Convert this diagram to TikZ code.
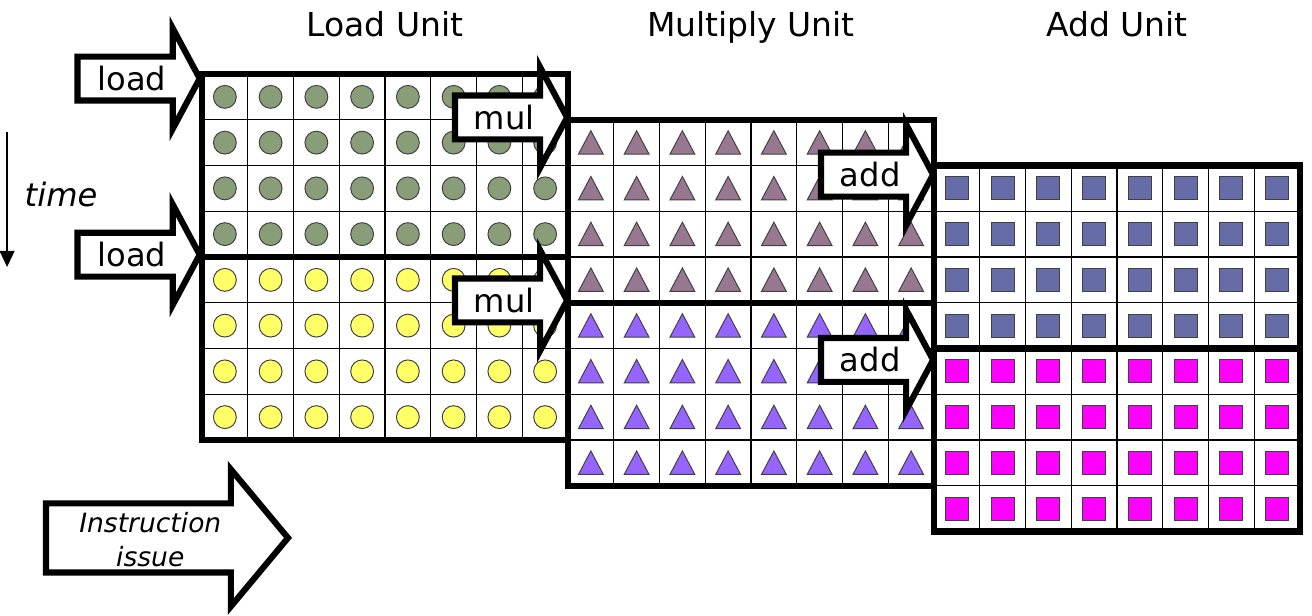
\documentclass[tikz,border=0pt]{standalone}
\usepackage{fontspec}
\setmainfont{DejaVu Sans}
\usetikzlibrary{calc,arrows.meta}
\definecolor{loadgreen}{RGB}{137,158,120}
\definecolor{loadyellow}{RGB}{255,255,102}
\definecolor{mulmauve}{RGB}{152,120,144}
\definecolor{mulpurple}{RGB}{150,100,255}
\definecolor{addslate}{RGB}{102,108,168}
\definecolor{addmagenta}{RGB}{255,0,255}
\tikzset{
	gridline/.style={line width=0.8pt},
	unitborder/.style={line width=3.8pt},
	blockarrow/.style={draw, fill=white, line width=3.8pt, line join=miter},
	shapeedge/.style={draw=black!75, line width=0.6pt},
	heading/.style={font=\fontsize{20.5}{24}\selectfont, anchor=base},
	arrowtext/.style={font=\fontsize{20}{24}\selectfont},
}
\def\instarrow[#1](#2)#3#4{
	\draw[blockarrow] (#2) -- ++(-0.59,1.1) -- ++(0,-0.62) -- ++({-(#1-0.59)},0) -- ++(0,-0.96) -- ++({#1-0.59},0) -- ++(0,-0.62) -- cycle;
	\node[arrowtext] (#3) at ($(#2)+({-(#1+0.3)/2},0)$) {#4};
}

\begin{document}
\begin{tikzpicture}
			%%%%% START %%%%%
			\useasboundingbox (-4.415,1.617) rectangle (24.262,-11.847);
			
			\node[heading] (loadunit) at (4,0.83) {Load Unit};
			\node[heading] (mulunit) at (12,0.83) {Multiply Unit};
			\node[heading] (addunit) at (20,0.83) {Add Unit};
			
			% load unit
			\foreach \rows/\col in {{0,1,2,3}/loadgreen,{4,5,6,7}/loadyellow}
				\foreach \j in \rows \foreach \i in {0,...,7}
					\draw[shapeedge, fill=\col] (\i+0.5,-\j-0.5) circle (0.25);
			\draw[gridline] (0,0) grid (8,-8);
			\draw[unitborder] (0,0) rectangle (8,-8);
			\draw[unitborder] (0,-4) -- (8,-4);
			
			% multiply unit
			\begin{scope}[shift={(8,-1)}]
			\foreach \rows/\col in {{0,1,2,3}/mulmauve,{4,5,6,7}/mulpurple}
				\foreach \j in \rows \foreach \i in {0,...,7}
					\draw[shapeedge, fill=\col] (\i+0.5,-\j-0.24) -- (\i+0.77,-\j-0.75) -- (\i+0.23,-\j-0.75) -- cycle;
			\draw[gridline] (0,0) grid (8,-8);
			\draw[unitborder] (0,0) rectangle (8,-8);
			\draw[unitborder] (0,-4) -- (8,-4);
			\end{scope}
			
			% add unit
			\begin{scope}[shift={(16,-2)}]
			\foreach \rows/\col in {{0,1,2,3}/addslate,{4,5,6,7}/addmagenta}
				\foreach \j in \rows \foreach \i in {0,...,7}
					\draw[shapeedge, fill=\col] (\i+0.25,-\j-0.25) rectangle (\i+0.75,-\j-0.75);
			\draw[gridline] (0,0) grid (8,-8);
			\draw[unitborder] (0,0) rectangle (8,-8);
			\draw[unitborder] (0,-4) -- (8,-4);
			\end{scope}
			
			\instarrow[2.67](-0.05,-0.1){load1}{load}
			\instarrow[2.67](-0.05,-3.95){load2}{load}
			\instarrow[2.45](7.98,-0.95){mul1}{mul}
			\instarrow[2.45](7.98,-4.95){mul2}{mul}
			\instarrow[2.45](15.98,-2.2){add1}{add}
			\instarrow[2.45](15.98,-6.25){add2}{add}
			
			\draw[blockarrow] (1.88,-10.14) -- ++(-1.25,1.5) -- ++(0,-0.745) -- ++(-4.04,0) -- ++(0,-1.51) -- ++(4.04,0) -- ++(0,-0.745) -- cycle;
			\node[font=\fontsize{16.5}{21}\selectfont\itshape, align=center] (issue) at (-1.13,-10.18) {Instruction\\issue};
			
			\coordinate (tstart) at (-4.26,-1.27);
			\coordinate (tend) at (-4.26,-4.22);
			\draw[line width=1.5pt, -{Triangle[length=10pt,width=9pt]}] (tstart) -- (tend);
			\node[arrowtext, font=\fontsize{20}{24}\selectfont\itshape] (time) at (-3.08,-2.64) {time};
			
			%%%%% END %%%%%
\end{tikzpicture}
\end{document}
